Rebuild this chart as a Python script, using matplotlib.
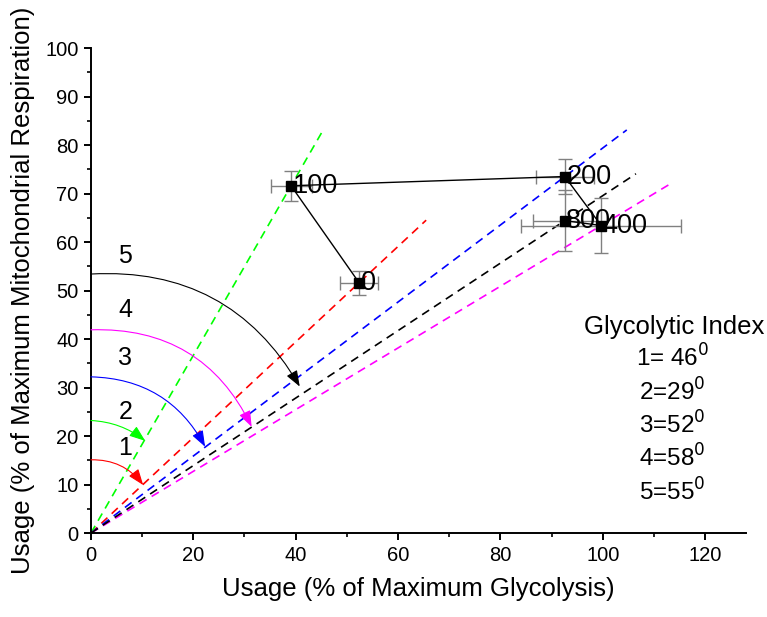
import matplotlib.pyplot as plt
import numpy as np
from matplotlib.ticker import MultipleLocator

plt.rcParams["font.family"] = ["Liberation Sans", "DejaVu Sans"]

# treatment points (usage of max glycolysis / max respiration)
labels = ["0", "100", "200", "400", "800"]
gly = [52.4, 39.1, 92.6, 99.7, 92.6]
resp = [51.6, 71.6, 73.5, 63.4, 64.4]
gly_err = [3.7, 4.0, 5.7, 15.6, 6.2]
resp_err = [2.5, 3.1, 3.6, 5.6, 6.3]

# dashed lines from origin through each point
ray_colors = ["red", "#00ff00", "blue", "magenta", "black"]
ray_end_x = [65.5, 45.1, 104.7, 113.2, 106.5]

# glycolytic index arcs
arc_names = ["1", "2", "3", "4", "5"]
arc_angles = [46, 29, 52, 58, 55]
arc_colors = ["red", "#00ff00", "blue", "magenta", "black"]
arc_start_y = [15.1, 23.2, 32.2, 41.9, 53.4]
arc_tip_x = [10.2, 10.6, 22.3, 31.4, 40.8]
arc_tip_y = [9.9, 19.0, 17.8, 21.9, 30.2]
arc_label_y = [17.5, 25.0, 36.0, 46.0, 57.1]
legend_y = [36.1, 29.1, 22.3, 15.5, 8.5]

fig = plt.figure(figsize=(7.67, 6.17), dpi=100)
ax = fig.add_axes([0.1186, 0.1361, 0.8540, 0.7861])

for (px, py, c, xe) in zip(gly, resp, ray_colors, ray_end_x):
    k = py / px
    ax.plot([0, xe], [0, k * xe], color=c, lw=1.2, ls=(0, (5, 3.5)), zorder=2)

for name, ang, c, sy, tx, ty, ly in zip(arc_names, arc_angles, arc_colors,
                                        arc_start_y, arc_tip_x, arc_tip_y, arc_label_y):
    rad = -1.25 * np.tan(np.radians(ang) / 4)
    ax.annotate("", xy=(tx, ty), xytext=(0, sy),
                arrowprops=dict(arrowstyle="-|>,head_length=0.75,head_width=0.28",
                                color=c, lw=0.8, shrinkA=0, shrinkB=0,
                                connectionstyle=f"arc3,rad={rad:.3f}",
                                mutation_scale=13),
                zorder=3)
    ax.text(6.7, ly, name, fontsize=18, ha="center", va="center")

ax.errorbar(gly, resp, xerr=gly_err, yerr=resp_err, fmt="none",
            ecolor="#808080", elinewidth=1, capsize=5, capthick=1, zorder=4)
ax.plot(gly, resp, color="black", lw=1, marker="s", ms=7, zorder=5)
for lab, px, py in zip(labels, gly, resp):
    ax.text(px + 0.3, py, lab, fontsize=19.5, ha="left", va="center", zorder=6)

ax.text(113.9, 42.5, "Glycolytic Index", fontsize=18.5, ha="center", va="center",
        clip_on=False)
for i, (name, ang, ty) in enumerate(zip(arc_names, arc_angles, legend_y)):
    sep = "= " if i == 0 else "="
    ax.text(113.6, ty, f"{name}{sep}{ang}$^0$", fontsize=17.5, ha="center",
            va="center", clip_on=False)

ax.set_xlim(0, 128)
ax.set_ylim(0, 100)
ax.xaxis.set_major_locator(MultipleLocator(20))
ax.xaxis.set_minor_locator(MultipleLocator(10))
ax.yaxis.set_major_locator(MultipleLocator(10))
ax.yaxis.set_minor_locator(MultipleLocator(5))
ax.spines["top"].set_visible(False)
ax.spines["right"].set_visible(False)
for s in ("left", "bottom"):
    ax.spines[s].set_linewidth(1.4)
ax.tick_params(which="major", direction="out", length=5, width=1.4,
               labelsize=14.5, pad=4)
ax.tick_params(which="minor", direction="out", length=3, width=1.2)

ax.set_xlabel("Usage (% of Maximum Glycolysis)", fontsize=18.5, labelpad=9)
ax.set_ylabel("Usage (% of Maximum Mitochondrial Respiration)", fontsize=18.5,
              labelpad=7)

fig.savefig("out.png", dpi=100)
